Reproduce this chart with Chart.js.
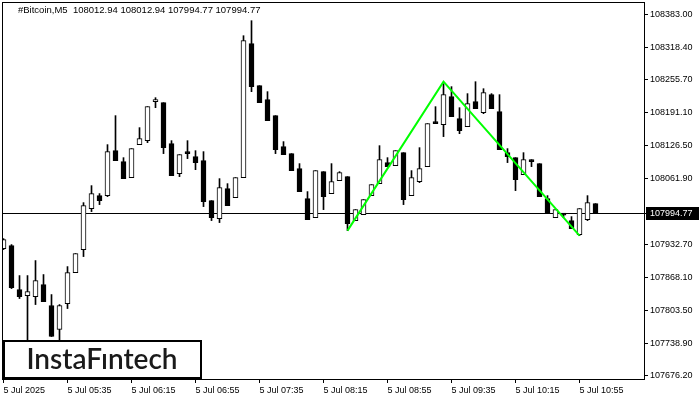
<!DOCTYPE html>
<html>
<head>
<meta charset="utf-8">
<script src="https://cdn.jsdelivr.net/npm/chart.js@4.4.1/dist/chart.umd.min.js"></script>
<style>
html, body { margin: 0; padding: 0; background: #fff; }
#wrap { position: relative; width: 700px; height: 400px; }
</style>
</head>
<body>
<div id="wrap"><canvas id="chart" width="700" height="400"></canvas></div>
<script>
// M5 candles
var symbolName = "#Bitcoin,M5";
var opens  = [107924.9,107930.7,107844.6,107832.8,107830.9,107854.4,107813.3,107766.3,107817.2,107877.9,
              107922.9,108003.2,108028.6,108028.6,108116.7,108095.2,108063.9,108128.5,108136.3,108212.7,
              108210.7,108130.5,108071.7,108114.8,108105.0,108097.2,108018.8,107983.6,108042.3,108024.7,
              108063.9,108326.3,108244.0,108216.6,108185.3,108124.6,108110.9,108081.5,108022.8,107985.6,
              108075.6,108032.6,108058.0,108065.8,107979.7,107991.4,108028.6,108052.1,108093.3,108087.4,
              108112.8,108028.6,108056.0,108085.4,108171.6,108167.7,108222.5,108179.4,108163.7,108212.7,
              108191.2,108226.4,108193.1,108112.8,108103.0,108069.8,108099.1,108091.3,108022.8,107985.6,
              107993.4,107979.7,107952.3,107981.6,108012.94];
var highs  = [107944.4,107932.7,107872.0,107872.0,107901.4,107874.0,107834.8,107815.2,107889.6,107915.1,
              108014.9,108048.2,108032.6,108128.5,108185.3,108103.0,108120.7,108161.8,108202.9,108220.5,
              108210.7,108136.3,108108.9,108136.3,108116.7,108114.8,108018.8,108061.9,108052.1,108063.9,
              108341.9,108371.3,108244.0,108232.3,108185.3,108134.4,108110.9,108091.3,108036.5,108077.6,
              108075.6,108091.3,108075.6,108065.8,108001.2,108020.8,108050.2,108126.5,108103.0,108116.7,
              108112.8,108077.6,108122.6,108169.6,108202.9,108247.9,108242.1,108200.9,108228.4,108251.8,
              108238.1,108228.4,108226.4,108120.7,108103.0,108112.8,108099.1,108091.3,108028.6,108001.2,
              107993.4,107987.5,108003.2,108028.6,108012.94];
var lows   = [107922.9,107846.5,107827.0,107727.1,107815.2,107821.1,107752.6,107736.9,107807.4,107877.9,
              107909.2,107997.3,108011.0,108026.7,108097.2,108061.9,108063.9,108128.5,108132.4,108200.9,
              108110.9,108067.8,108065.8,108101.1,108079.5,108007.1,107979.7,107975.8,108009.1,108024.7,
              108063.9,108232.3,108210.7,108175.5,108110.9,108108.9,108077.6,108036.5,107981.6,107985.6,
              108001.2,108032.6,108058.0,107960.1,107979.7,107991.4,108028.6,108052.1,108085.4,108087.4,
              108011.0,108028.6,108054.1,108085.4,108169.6,108144.2,108183.3,108150.0,108163.7,108199.0,
              108189.2,108199.0,108118.7,108093.3,108038.4,108069.8,108085.4,108026.7,107993.4,107985.6,
              107985.6,107964.0,107950.3,107979.7,107994.77];
var closes = [107942.5,107848.5,107830.9,107840.7,107862.2,107821.1,107752.6,107813.3,107877.9,107915.1,
              108009.1,108032.6,108018.8,108114.8,108097.2,108061.9,108120.7,108140.2,108202.9,108216.6,
              108122.6,108067.8,108108.9,108110.9,108093.3,108016.9,107985.6,108044.3,108009.1,108063.9,
              108332.1,108242.1,108210.7,108175.5,108118.7,108108.9,108077.6,108036.5,107981.6,108077.6,
              108026.7,108056.0,108073.7,107973.8,108001.2,108020.8,108050.2,108099.1,108085.4,108116.7,
              108020.8,108063.9,108081.5,108169.6,108169.6,108226.4,108183.3,108155.9,108208.8,108199.0,
              108230.3,108199.0,108118.7,108105.0,108060.0,108099.1,108095.2,108026.7,107993.4,108001.2,
              107990.5,107964.0,108003.2,108014.9,107994.77];

// double top pattern (candle index, price)
var patternIdx = [43, 55, 72];
var patternVal = [107960.1, 108251.8, 107950.3];

var xTickIdx = [0, 8, 16, 24, 32, 40, 48, 56, 64, 72];
var xTickLabels = ["5 Jul 2025", "5 Jul 05:35", "5 Jul 06:15", "5 Jul 06:55", "5 Jul 07:35",
                   "5 Jul 08:15", "5 Jul 08:55", "5 Jul 09:35", "5 Jul 10:15", "5 Jul 10:55"];
var yTicks = [108383.00, 108318.40, 108255.70, 108191.10, 108126.50, 108061.90,
              107932.70, 107868.10, 107803.50, 107738.90, 107676.20];
var yMin = 107669.4, yMax = 108407.9;

var axisFont = { family: "Liberation Sans", size: 9 };
var n = closes.length;
var lastClose = closes[n - 1];

var wickData = [], bodyData = [], bodyFill = [];
for (var i = 0; i < n; i++) {
	wickData.push({ x: i, y: [lows[i], highs[i]] });
	bodyData.push({ x: i, y: [Math.min(opens[i], closes[i]), Math.max(opens[i], closes[i])] });
	bodyFill.push(closes[i] >= opens[i] ? "#ffffff" : "#000000");
}
var patternData = [];
for (var k = 0; k < patternIdx.length; k++) patternData.push({ x: patternIdx[k], y: patternVal[k] });

var mtPlugin = {
	id: "mtLook",
	beforeDatasetsDraw: function(chart) {
		var ctx = chart.ctx, ca = chart.chartArea;
		var y = Math.round(chart.scales.y.getPixelForValue(lastClose)) + 0.5;
		ctx.save();
		ctx.strokeStyle = "#000";
		ctx.lineWidth = 1;
		ctx.beginPath();
		ctx.moveTo(ca.left, y);
		ctx.lineTo(ca.right, y);
		ctx.stroke();
		ctx.restore();
	},
	afterDraw: function(chart) {
		var ctx = chart.ctx, ca = chart.chartArea;
		ctx.save();
		// frame
		ctx.strokeStyle = "#000";
		ctx.lineWidth = 1;
		ctx.strokeRect(ca.left + 0.5, ca.top + 0.5, ca.right - ca.left, ca.bottom - ca.top);

		// symbol + last bar OHLC
		ctx.fillStyle = "#000";
		ctx.font = "9.5px 'Liberation Sans'";
		ctx.textBaseline = "middle";
		ctx.textAlign = "left";
		var txt = symbolName + "  " + opens[n-1].toFixed(2) + " " + highs[n-1].toFixed(2) + " " +
			lows[n-1].toFixed(2) + " " + closes[n-1].toFixed(2);
		ctx.fillText(txt, 18, 10.5);

		// price label on the axis
		ctx.font = "9px 'Liberation Sans'";
		var y = Math.round(chart.scales.y.getPixelForValue(lastClose)) + 0.5;
		ctx.beginPath();
		ctx.moveTo(ca.right, y);
		ctx.lineTo(ca.right + 4, y);
		ctx.stroke();
		ctx.fillRect(ca.right + 2, y - 6.5, 53, 13);
		ctx.fillStyle = "#fff";
		ctx.fillText(lastClose.toFixed(2), ca.right + 6, y);

		// logo box
		ctx.fillStyle = "#000";
		ctx.fillRect(3, 340, 199, 39);
		ctx.fillStyle = "#fff";
		ctx.fillRect(5, 342, 195, 35);
		ctx.fillStyle = "#1a1a1a";
		ctx.font = "600 28px Lato";
		ctx.textAlign = "center";
		ctx.textBaseline = "middle";
		ctx.fillText("InstaF\u0131ntech", 102, 360);
		ctx.restore();
	}
};

new Chart(document.getElementById("chart"), {
	data: {
		datasets: [
			{ type: "line", data: patternData, borderColor: "#00ff00", borderWidth: 2,
			  pointRadius: 0, tension: 0, order: 1 },
			{ type: "bar", data: bodyData, backgroundColor: bodyFill, borderColor: "#000",
			  borderWidth: 1, borderSkipped: false, barThickness: 5, minBarLength: 2,
			  grouped: false, order: 2 },
			{ type: "bar", data: wickData, backgroundColor: "#000", barThickness: 1,
			  grouped: false, order: 3 }
		]
	},
	options: {
		responsive: false,
		animation: false,
		devicePixelRatio: 1,
		layout: { padding: { left: 2, top: 2, right: 0, bottom: 0 } },
		plugins: { legend: { display: false }, tooltip: { enabled: false } },
		scales: {
			x: {
				type: "linear", position: "bottom", min: -0.1875, max: 80.0625, offset: false,
				grid: { offset: false, drawOnChartArea: false, drawTicks: true, tickLength: 4, color: "#000" },
				border: { display: false },
				ticks: {
					autoSkip: false, maxRotation: 0, align: "start", padding: 2,
					font: axisFont, color: "#000",
					callback: function(v) { return xTickLabels[xTickIdx.indexOf(v)]; }
				},
				afterBuildTicks: function(s) { s.ticks = xTickIdx.map(function(v) { return { value: v }; }); },
				afterFit: function(s) { s.height = 21; s.paddingLeft = 0; s.paddingRight = 0; }
			},
			y: {
				type: "linear", position: "right", min: yMin, max: yMax,
				grid: { drawOnChartArea: false, drawTicks: true, tickLength: 4, color: "#000" },
				border: { display: false },
				ticks: {
					padding: 2, font: axisFont, color: "#000",
					callback: function(v) { return v.toFixed(2); }
				},
				afterBuildTicks: function(s) { s.ticks = yTicks.map(function(v) { return { value: v }; }); },
				afterFit: function(s) { s.width = 56; s.paddingTop = 0; s.paddingBottom = 0; }
			}
		}
	},
	plugins: [mtPlugin]
});
</script>
</body>
</html>
